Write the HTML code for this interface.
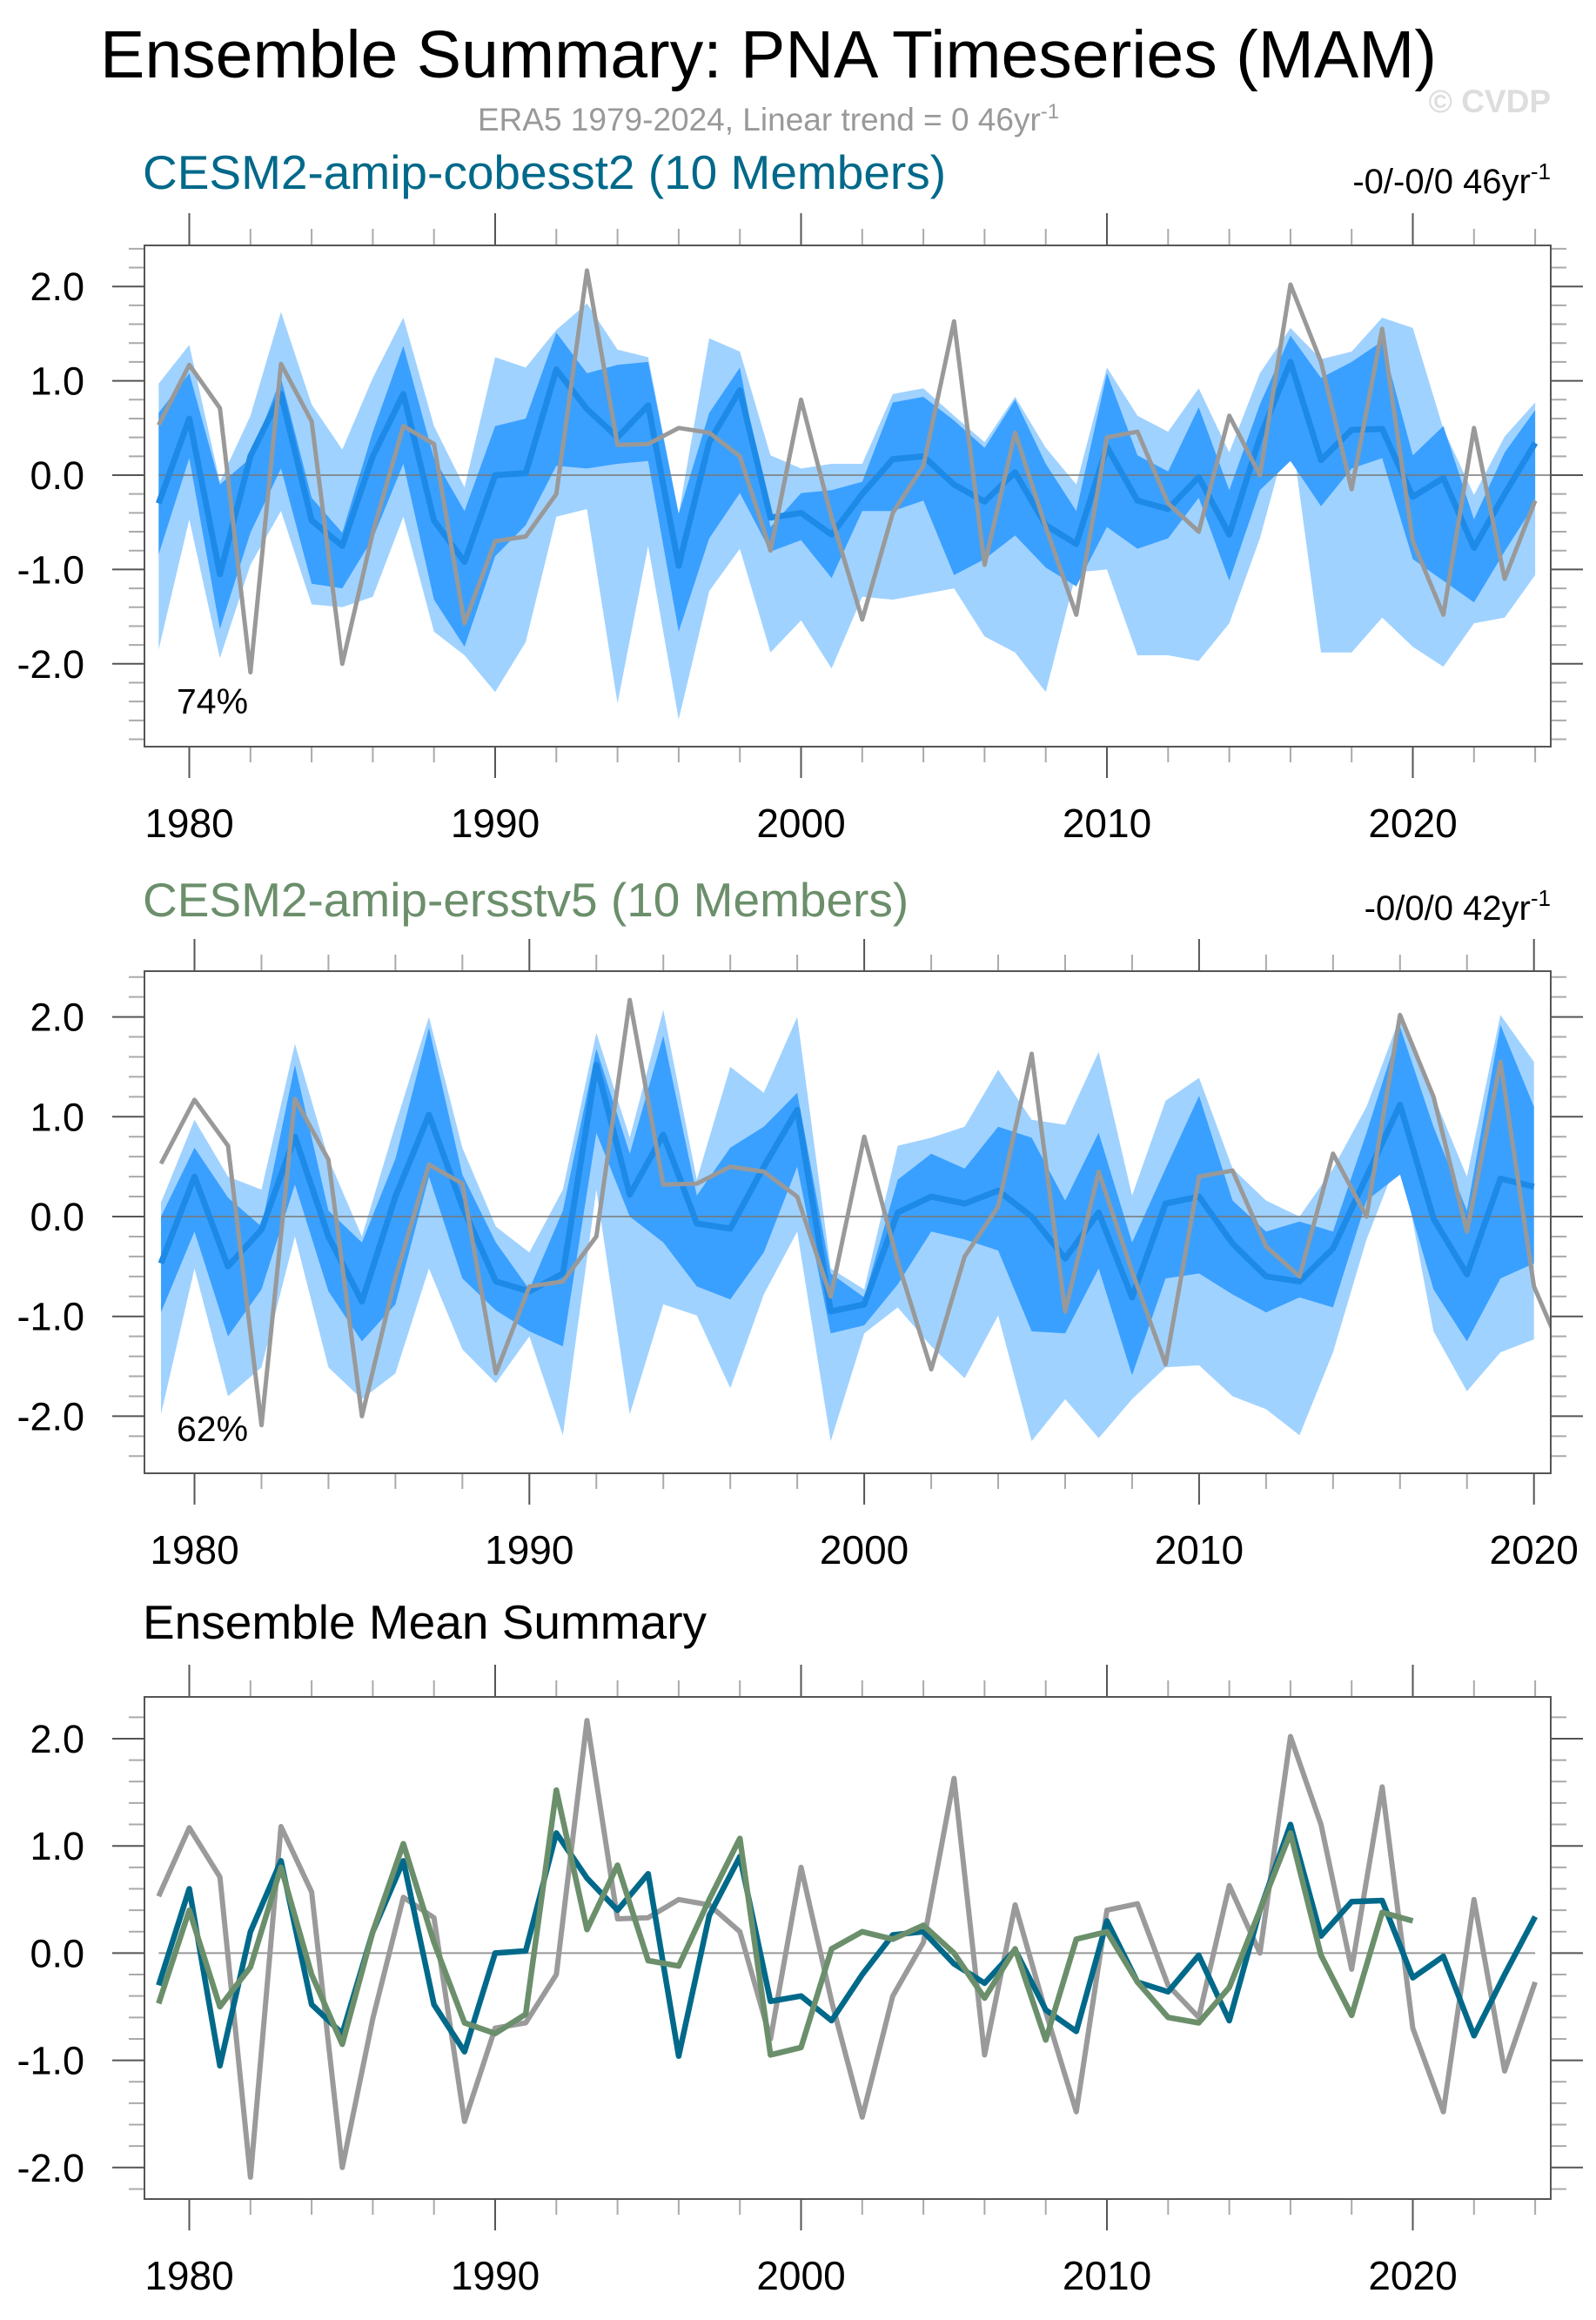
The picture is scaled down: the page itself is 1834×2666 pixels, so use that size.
<!DOCTYPE html>
<html><head><meta charset="utf-8">
<style>
html,body{margin:0;padding:0;background:#fff;}
svg{display:block;}
text{font-family:"Liberation Sans",Arial,sans-serif;}
</style></head>
<body>
<svg id="chart" width="1834" height="2666" viewBox="0 0 1834 2666" xmlns="http://www.w3.org/2000/svg">
<text x="883" y="89" font-size="77" text-anchor="middle" fill="#000">Ensemble Summary: PNA Timeseries (MAM)</text>
<text x="883" y="150" font-size="37" text-anchor="middle" fill="#999">ERA5 1979-2024, Linear trend = 0 46yr<tspan dy="-14" font-size="24">-1</tspan></text>
<text x="1782" y="129" font-size="37" font-weight="bold" text-anchor="end" fill="#ddd">© CVDP</text>
<text x="164" y="217" font-size="55" fill="#00698a">CESM2-amip-cobesst2 (10 Members)</text>
<text x="1782" y="222" font-size="40" text-anchor="end" fill="#000">-0/-0/0 46yr<tspan dy="-16" font-size="26">-1</tspan></text>
<text x="164" y="1053" font-size="55" fill="#6b8f6b">CESM2-amip-ersstv5 (10 Members)</text>
<text x="1782" y="1057" font-size="40" text-anchor="end" fill="#000">-0/0/0 42yr<tspan dy="-16" font-size="26">-1</tspan></text>
<text x="164" y="1883" font-size="55" fill="#000">Ensemble Mean Summary</text>
</svg>
<script>
// ---- data ----
const yearsA = [];
for (let y = 1979; y <= 2024; y++) yearsA.push(y);
const yearsB = [];
for (let y = 1979; y <= 2020; y++) yearsB.push(y);

const era5 = [0.53,1.17,0.71,-2.09,1.18,0.57,-2.0,-0.61,0.52,0.33,-1.57,-0.7,-0.65,-0.2,2.17,0.32,0.33,0.5,0.45,0.2,-0.8,0.8,-0.45,-1.53,-0.4,0.1,1.63,-0.95,0.45,-0.55,-1.48,0.4,0.46,-0.3,-0.6,0.63,0.0,2.02,1.2,-0.15,1.55,-0.7,-1.48,0.5,-1.1,-0.27];

const cobeMean = [-0.3,0.6,-1.05,0.2,0.86,-0.48,-0.75,0.2,0.86,-0.48,-0.92,0.0,0.02,1.12,0.7,0.4,0.74,-0.96,0.35,0.9,-0.45,-0.4,-0.63,-0.2,0.17,0.2,-0.1,-0.28,0.03,-0.53,-0.73,0.3,-0.27,-0.36,-0.02,-0.63,0.4,1.2,0.16,0.48,0.49,-0.23,-0.03,-0.77,-0.2,0.34];
const cobeLightHi = [0.97,1.38,-0.07,0.63,1.73,0.75,0.27,1.03,1.67,0.52,-0.13,1.25,1.14,1.54,1.82,1.33,1.25,-0.41,1.45,1.31,0.21,0.07,0.12,0.12,0.86,0.92,0.63,0.35,0.83,0.29,-0.1,1.14,0.63,0.46,0.92,0.24,1.08,1.56,1.23,1.31,1.67,1.56,0.49,-0.21,0.41,0.77];
const cobeLightLo = [-1.85,-0.47,-1.94,-0.95,-0.38,-1.37,-1.4,-1.29,-0.44,-1.66,-1.91,-2.3,-1.77,-0.44,-0.36,-2.42,-0.75,-2.59,-1.23,-0.78,-1.88,-1.54,-2.05,-1.29,-1.32,-1.26,-1.2,-1.71,-1.88,-2.3,-1.03,-1.0,-1.91,-1.91,-1.97,-1.57,-0.67,0.52,-1.88,-1.88,-1.51,-1.82,-2.03,-1.57,-1.51,-1.06];
const cobeDarkHi = [0.66,1.08,-0.1,0.18,1.03,-0.24,-0.61,0.46,1.37,0.18,-0.38,0.52,0.6,1.51,1.08,1.17,1.2,-0.41,0.66,1.14,-0.55,-0.19,-0.16,-0.07,0.77,0.83,0.58,0.29,0.8,0.12,-0.38,1.08,0.21,0.04,0.72,-0.16,0.75,1.48,1.03,1.2,1.42,0.21,0.52,-0.47,0.24,0.69];
const cobeDarkLo = [-0.84,0.18,-1.63,-0.61,0.07,-1.15,-1.2,-0.67,0.12,-1.32,-1.82,-0.86,-0.53,0.1,0.07,0.12,0.15,-1.66,-0.67,-0.19,-0.81,-0.69,-1.09,-0.38,-0.38,-0.27,-1.06,-0.89,-0.64,-0.98,-1.18,-0.55,-0.78,-0.67,-0.24,-1.12,-0.16,0.15,-0.33,0.07,0.18,-0.89,-1.12,-1.35,-0.81,-0.3];

const erMean = [-0.47,0.4,-0.5,-0.13,0.8,-0.2,-0.85,0.2,1.02,0.1,-0.65,-0.75,-0.57,1.52,0.22,0.82,-0.07,-0.12,0.5,1.07,-0.95,-0.88,0.04,0.2,0.13,0.26,0.0,-0.42,0.04,-0.81,0.13,0.2,-0.27,-0.6,-0.65,-0.32,0.4,1.12,-0.02,-0.58,0.38,0.3];
const erLightHi = [0.14,0.97,0.4,0.27,1.73,0.58,-0.2,0.92,2.0,0.69,-0.1,-0.36,0.27,1.84,0.79,2.07,0.37,1.5,1.24,2.0,-0.52,-0.73,0.71,0.79,0.9,1.47,0.97,0.92,1.65,0.21,1.16,1.39,0.48,0.16,0.0,0.48,1.1,2.0,1.21,0.4,2.02,1.55];
const erLightLo = [-1.98,-0.52,-1.8,-1.51,-0.2,-1.51,-1.83,-1.57,-0.52,-1.33,-1.67,-1.2,-2.19,0.27,-1.98,-0.88,-0.99,-1.72,-0.78,-0.15,-2.25,-1.17,-0.91,-1.3,-1.62,-0.99,-2.25,-1.83,-2.22,-1.83,-1.51,-1.49,-1.8,-1.93,-2.19,-1.36,-0.23,0.63,-1.15,-1.75,-1.36,-1.23];
const erDarkHi = [0.0,0.69,0.19,-0.1,1.52,0.06,-0.26,0.58,1.89,0.42,-0.26,-0.73,0.06,1.68,0.63,1.81,0.21,0.69,0.9,1.24,-0.57,-0.81,0.37,0.63,0.48,0.9,0.79,0.16,0.84,-0.26,0.48,1.21,0.16,-0.15,-0.05,-0.15,0.84,1.9,0.9,0.06,1.92,1.1];
const erDarkLo = [-0.96,-0.15,-1.2,-0.73,0.32,-0.75,-1.25,-0.88,0.4,-0.62,-0.94,-1.15,-1.3,0.84,0.0,-0.26,-0.7,-0.83,-0.36,0.5,-1.17,-1.09,-0.68,-0.15,-0.23,-0.34,-1.15,-1.17,-0.52,-1.59,-0.62,-0.57,-0.78,-0.96,-0.81,-0.91,0.16,0.42,-0.73,-1.25,-0.62,-0.47];

const yTickLabels = ["-2.0","-1.0","0.0","1.0","2.0"];
const yTickValues = [-2,-1,0,1,2];
const xTickLabelsA = ["1980","1990","2000","2010","2020"];
const xTickLabelsB = ["1980","1990","2000","2010","2020"];

// ---- helpers ----
const NS = "http://www.w3.org/2000/svg";
const svg = document.getElementById("chart");
function mk(tag, attrs, parent) {
  const e = document.createElementNS(NS, tag);
  for (const k in attrs) e.setAttribute(k, attrs[k]);
  (parent || svg).appendChild(e);
  return e;
}
function makeScale(p) {
  return {
    x: y => p.x1980 + (y - 1980) * p.step,
    y: v => p.y0 - v * p.unit
  };
}
function linePts(s, years, vals) {
  return years.map((yr, i) => s.x(yr).toFixed(1) + "," + s.y(vals[i]).toFixed(1)).join(" ");
}
function bandPts(s, years, hi, lo) {
  const a = years.map((yr, i) => s.x(yr).toFixed(1) + "," + s.y(hi[i]).toFixed(1));
  const b = years.map((yr, i) => s.x(yr).toFixed(1) + "," + s.y(lo[i]).toFixed(1)).reverse();
  return a.concat(b).join(" ");
}
function axes(p, s, g, xLabels, lastYear, pid) {
  // y ticks
  const vMin = (p.y0 - p.bottom) / p.unit, vMax = (p.y0 - p.top) / p.unit;
  for (let k = Math.ceil(vMin * 5 - 1e-6); k <= Math.floor(vMax * 5 + 1e-6); k++) {
    const v = k / 5, yy = s.y(v);
    const major = (k % 5 === 0);
    const t = mk("line", {x1: major ? 129 : 148, x2: p.left, y1: yy, y2: yy, stroke: major ? "#555" : "#aaa", "stroke-width": 2}, g);
    
    
    const r = mk("line", {x1: p.right, x2: major ? 1819 : 1800, y1: yy, y2: yy, stroke: major ? "#555" : "#aaa", "stroke-width": 2}, g);
    
    
  }
  yTickValues.forEach((v, i) => {
    const t = mk("text", {x: 97, y: s.y(v) + 16, "font-size": 45, "text-anchor": "end", fill: "#000"}, g);
    t.textContent = yTickLabels[i];
    
    
  });
  // x ticks every 2 years
  for (let yr = 1980; yr <= lastYear; yr += 2) {
    const xx = s.x(yr);
    if (xx > p.right + 1) continue;
    const major = (yr % 10 === 0);
    const c = major ? "#555" : "#aaa";
    const t = mk("line", {x1: xx, x2: xx, y1: p.top, y2: p.top - (major ? 37 : 19), stroke: c, "stroke-width": 2}, g);
    
    
    const b = mk("line", {x1: xx, x2: xx, y1: p.bottom, y2: p.bottom + (major ? 36 : 18), stroke: c, "stroke-width": 2}, g);
    
    
  }
  xLabels.forEach(lbl => {
    const t = mk("text", {x: s.x(+lbl), y: p.bottom + 104, "font-size": 46, "text-anchor": "middle", fill: "#000"}, g);
    t.textContent = lbl;
    
    
  });
  const box = mk("rect", {x: p.left, y: p.top, width: p.right - p.left, height: p.bottom - p.top, fill: "none", stroke: "#555", "stroke-width": 2}, g);
  
  
}

// ---- panel definitions ----
const P1 = {left: 166, right: 1782, top: 282, bottom: 858, x1980: 217.5, step: 35.15, y0: 546, unit: 108.4};
const P2 = {left: 166, right: 1782, top: 1116, bottom: 1693, x1980: 223.5, step: 38.48, y0: 1398, unit: 114.7};
const P3 = {left: 166, right: 1782, top: 1950, bottom: 2527, x1980: 217.5, step: 35.15, y0: 2244.4, unit: 123.2};

function clip(p, id) {
  const defs = mk("defs", {});
  const cp = mk("clipPath", {id: id}, defs);
  mk("rect", {x: p.left, y: p.top, width: p.right - p.left, height: p.bottom - p.top}, cp);
}

function ensemblePanel(p, pid, years, lHi, lLo, dHi, dLo, mean, pct, pctY) {
  const s = makeScale(p);
  clip(p, pid + "-clip");
  const g = mk("g", {});
  
  
  const gc = mk("g", {"clip-path": "url(#" + pid + "-clip)"}, g);
  const lb = mk("polygon", {points: bandPts(s, years, lHi, lLo), fill: "#a0d2ff"}, gc);
  
  
  const db = mk("polygon", {points: bandPts(s, years, dHi, dLo), fill: "#3aa0ff"}, gc);
  
  
  const z = mk("line", {x1: s.x(1979), x2: p.right, y1: s.y(0), y2: s.y(0), stroke: "#777", "stroke-width": 1.5}, gc);
  
  
  const ml = mk("polyline", {points: linePts(s, years, mean), fill: "none", stroke: "#1e8ae8", "stroke-width": 7, "stroke-linejoin": "round"}, gc);
  
  
  const ol = mk("polyline", {points: linePts(s, yearsA, era5), fill: "none", stroke: "#999", "stroke-width": 5, "stroke-linejoin": "round"}, gc);
  
  
  axes(p, s, g, years === yearsA ? xTickLabelsA : xTickLabelsB, years[years.length - 1], pid);
  const t = mk("text", {x: 203, y: pctY, "font-size": 41, fill: "#000"}, g);
  t.textContent = pct;
  
  
}

ensemblePanel(P1, "panel1", yearsA, cobeLightHi, cobeLightLo, cobeDarkHi, cobeDarkLo, cobeMean, "74%", 820);
ensemblePanel(P2, "panel2", yearsB, erLightHi, erLightLo, erDarkHi, erDarkLo, erMean, "62%", 1656);

// panel 3
(function () {
  const p = P3, pid = "panel3", s = makeScale(p);
  clip(p, pid + "-clip");
  const g = mk("g", {});
  
  
  const gc = mk("g", {"clip-path": "url(#" + pid + "-clip)"}, g);
  const z = mk("line", {x1: s.x(1979), x2: s.x(2024), y1: s.y(0), y2: s.y(0), stroke: "#999", "stroke-width": 2}, gc);
  
  
  const a = mk("polyline", {points: linePts(s, yearsA, era5), fill: "none", stroke: "#9a9a9a", "stroke-width": 6, "stroke-linejoin": "round"}, gc);
  
  
  const b = mk("polyline", {points: linePts(s, yearsA, cobeMean), fill: "none", stroke: "#00698a", "stroke-width": 6.5, "stroke-linejoin": "round"}, gc);
  
  
  const c = mk("polyline", {points: linePts(s, yearsB, erMean), fill: "none", stroke: "#6b8f6b", "stroke-width": 6.5, "stroke-linejoin": "round"}, gc);
  
  
  axes(p, s, g, xTickLabelsA, 2024, pid);
})();
</script>
</body></html>
